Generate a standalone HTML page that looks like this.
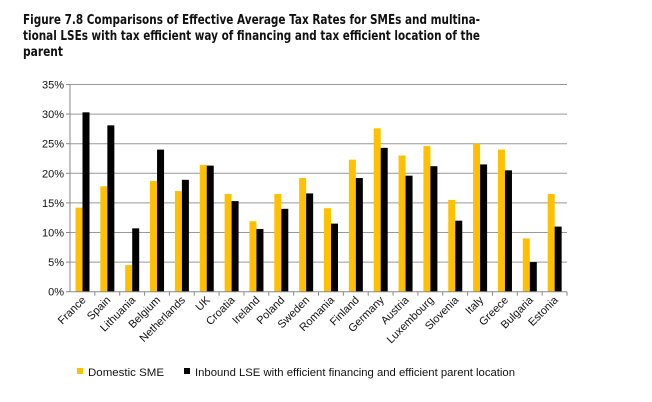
<!DOCTYPE html>
<html><head><meta charset="utf-8"><style>
body{margin:0;background:#fff;}
svg{display:block;font-family:"Liberation Sans",Arial,sans-serif;}
</style></head><body>
<svg id="chart" width="652" height="402">
<g font-family="DejaVu Sans, sans-serif" font-weight="bold" font-size="13.5" fill="#111">
<text x="23" y="24" textLength="457" lengthAdjust="spacingAndGlyphs">Figure 7.8 Comparisons of Effective Average Tax Rates for SMEs and multina-</text>
<text x="23" y="40" textLength="457" lengthAdjust="spacingAndGlyphs">tional LSEs with tax efficient way of financing and tax efficient location of the</text>
<text x="23" y="56" textLength="40" lengthAdjust="spacingAndGlyphs">parent</text>
</g>
<g id="grid"></g><g id="bars"></g><g id="axes"></g>
<g font-size="11" fill="#111">
<rect x="77" y="368" width="6" height="6" fill="#FFC000"/>
<text x="88" y="376" textLength="76" lengthAdjust="spacingAndGlyphs">Domestic SME</text>
<rect x="184" y="368" width="6" height="6" fill="#000"/>
<text x="195" y="376" textLength="320" lengthAdjust="spacingAndGlyphs">Inbound LSE with efficient financing and efficient parent location</text>
</g>
</svg>
<script>
const categories=["France","Spain","Lithuania","Belgium","Netherlands","UK","Croatia","Ireland","Poland","Sweden","Romania","Finland","Germany","Austria","Luxembourg","Slovenia","Italy","Greece","Bulgaria","Estonia"];
const smeValues=[14.2,17.8,4.5,18.7,17.0,21.4,16.5,11.9,16.5,19.2,14.1,22.3,27.6,23.0,24.6,15.5,25.0,24.0,9.0,16.5];
const lseValues=[30.3,28.1,10.7,24.0,18.9,21.3,15.3,10.6,14.0,16.6,11.5,19.2,24.3,19.6,21.2,12.0,21.5,20.5,5.0,11.0];
const yTicks=[0,5,10,15,20,25,30,35];
const tickLabels=["0%","5%","10%","15%","20%","25%","30%","35%"];
const NS="http://www.w3.org/2000/svg";
const L=70,R=567,T=84.5,B=291.7,YMAX=35;
const y=v=>B-(v/YMAX)*(B-T);
const bw=(R-L)/categories.length;
const x=i=>L+i*bw;
function mk(tag,attrs,parent){const e=document.createElementNS(NS,tag);for(const k in attrs)e.setAttribute(k,attrs[k]);parent.appendChild(e);return e;}
const grid=document.getElementById('grid'),bars=document.getElementById('bars'),axes=document.getElementById('axes');
yTicks.forEach((t,i)=>{
 if(t>0){const g=mk('line',{x1:L,x2:R,y1:y(t),y2:y(t),stroke:'#999','stroke-width':1},grid);
 
 }
 const tl=mk('text',{x:L-6,y:y(t)+4,'text-anchor':'end','font-size':11,fill:'#111'},axes);
 tl.textContent=tickLabels[i];
 
 
 const tk=mk('line',{x1:L-4,x2:L,y1:y(t),y2:y(t),stroke:'#888'},axes);
 
 
});
const yax=mk('line',{x1:L,x2:L,y1:T,y2:B,stroke:'#888'},axes);


const xax=mk('line',{x1:L,x2:R,y1:B,y2:B,stroke:'#888'},axes);


categories.forEach((c,i)=>{
 const b1=mk('rect',{x:x(i)+5.5,y:y(smeValues[i]),width:7,height:B-y(smeValues[i]),fill:'#FFC000'},bars);
 
 
 const b2=mk('rect',{x:x(i)+12.5,y:y(lseValues[i]),width:7,height:B-y(lseValues[i]),fill:'#000'},bars);
 
 
 const tk=mk('line',{x1:x(i+1),x2:x(i+1),y1:B,y2:B+4,stroke:'#888'},axes);
 
 
 const cx=x(i)+bw/2+4,cy=B+9;
 const lb=mk('text',{x:cx,y:cy,'text-anchor':'end','font-size':11,fill:'#111',transform:`rotate(-45 ${cx} ${cy})`},axes);
 lb.textContent=c;
 
 
});
</script>
</body></html>
